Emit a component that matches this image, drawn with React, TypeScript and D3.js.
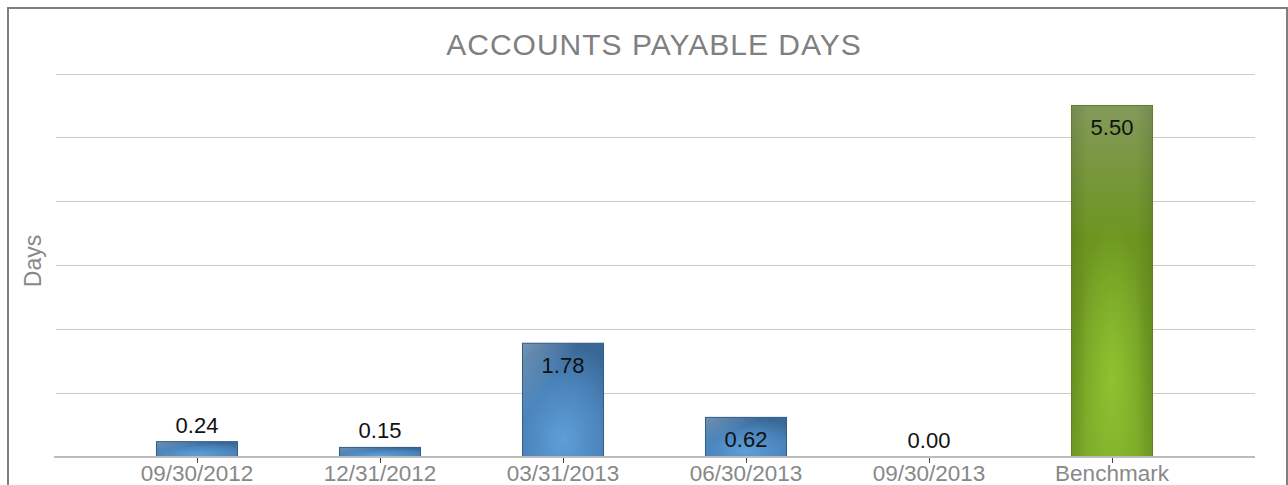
import React from "react";
import * as d3 from "d3";

const categories = ["09/30/2012", "12/31/2012", "03/31/2013", "06/30/2013", "09/30/2013", "Benchmark"];
const values = [0.24, 0.15, 1.78, 0.62, 0.0, 5.5];
const isBenchmark = [false, false, false, false, false, true];
const yTicks = [0, 1, 2, 3, 4, 5, 6];
const title = "ACCOUNTS PAYABLE DAYS";
const yTitle = "Days";

const W = 1288;
const H = 485;
const FONT = "'Liberation Sans', Arial, Helvetica, sans-serif";

export default function App() {
  const x = d3.scaleBand<string>().domain(categories).range([105.5, 1203.5]).paddingInner(0.557).paddingOuter(0.557 / 2);
  const y = d3.scaleLinear().domain([0, 6]).range([457, 73.5]);
  const gridX1 = 56;
  const gridX2 = 1255;
  const center = (c: string) => (x(c) as number) + x.bandwidth() / 2;

  return (
    <svg width={W} height={H} style={{ position: "absolute", left: 0, top: 0, background: "#fff" }}>
      <defs>
        <radialGradient id="blueG" cx="50%" cy="85%" r="85%" fx="50%" fy="85%">
          <stop offset="0%" stopColor="#5e9fd8" />
          <stop offset="60%" stopColor="#4a83ba" />
          <stop offset="100%" stopColor="#3a6896" />
        </radialGradient>
        <linearGradient id="blueSheen" x1="0" y1="0" x2="1" y2="1">
          <stop offset="0%" stopColor="#ffffff" stopOpacity={0.3} />
          <stop offset="35%" stopColor="#ffffff" stopOpacity={0} />
        </linearGradient>
        <linearGradient id="greenLin" x1="0" y1="0" x2="0" y2="1">
          <stop offset="0%" stopColor="#83995a" />
          <stop offset="38%" stopColor="#6c9520" />
          <stop offset="100%" stopColor="#7aa928" />
        </linearGradient>
        <radialGradient id="greenRad" cx="50%" cy="78%" r="45%" fx="50%" fy="78%">
          <stop offset="0%" stopColor="#8fc231" stopOpacity={1} />
          <stop offset="100%" stopColor="#8fc231" stopOpacity={0} />
        </radialGradient>
        <linearGradient id="greenEdge" x1="0" y1="0" x2="1" y2="0">
          <stop offset="0%" stopColor="#000" stopOpacity={0.1} />
          <stop offset="20%" stopColor="#000" stopOpacity={0} />
          <stop offset="80%" stopColor="#000" stopOpacity={0} />
          <stop offset="100%" stopColor="#000" stopOpacity={0.1} />
        </linearGradient>
      </defs>

      <rect x={8} y={8} width={1279} height={520} fill="none" stroke="#7f7f7f" strokeWidth={2} />

      <text x={654} y={55} textAnchor="middle" fontFamily={FONT} fontSize={30} letterSpacing={1} fill="#808080">
        {title}
      </text>

      {yTicks.filter((t) => t > 0).map((t) => (
        <line key={t} x1={gridX1} x2={gridX2} y1={Math.round(y(t)) + 0.5} y2={Math.round(y(t)) + 0.5} stroke="#cccccc" strokeWidth={1} />
      ))}

      <text transform={`translate(41, ${261}) rotate(-90)`} textAnchor="middle" fontFamily={FONT} fontSize={23} fill="#888888">
        {yTitle}
      </text>

      {categories.map((c, i) => {
        const v = values[i];
        const top = y(v);
        const h = y(0) - top;
        if (h <= 0.5) return null;
        const bx = x(c) as number;
        const bw = x.bandwidth();
        if (isBenchmark[i]) {
          return (
            <g key={c}>
              <rect x={bx} y={top} width={bw} height={h} fill="url(#greenLin)" />
              <rect x={bx} y={top} width={bw} height={h} fill="url(#greenRad)" />
              <rect x={bx} y={top} width={bw} height={h} fill="url(#greenEdge)" stroke="#5f7d2c" strokeWidth={1} />
            </g>
          );
        }
        return (
          <g key={c}>
            <rect x={bx} y={top} width={bw} height={h} fill="url(#blueG)" />
            <rect x={bx} y={top} width={bw} height={h} fill="url(#blueSheen)" stroke="#2f5b87" strokeWidth={1} />
          </g>
        );
      })}

      <line x1={54} x2={gridX2} y1={457} y2={457} stroke="#bbbbbb" strokeWidth={2} />

      {categories.map((c) => (
        <line key={c} x1={Math.round(center(c)) + 0.5} x2={Math.round(center(c)) + 0.5} y1={458} y2={463} stroke="#444" strokeWidth={1} />
      ))}

      {categories.map((c) => (
        <text key={c} x={center(c)} y={481} textAnchor="middle" fontFamily={FONT} fontSize={22.5} fill="#888888">
          {c}
        </text>
      ))}

      {categories.map((c, i) => {
        const v = values[i];
        const top = y(v);
        const h = y(0) - top;
        const inside = h > 30;
        return (
          <text key={c} x={center(c)} y={inside ? top + 30 : top - 9} textAnchor="middle" fontFamily={FONT} fontSize={22} fill="#111111">
            {v.toFixed(2)}
          </text>
        );
      })}
    </svg>
  );
}
